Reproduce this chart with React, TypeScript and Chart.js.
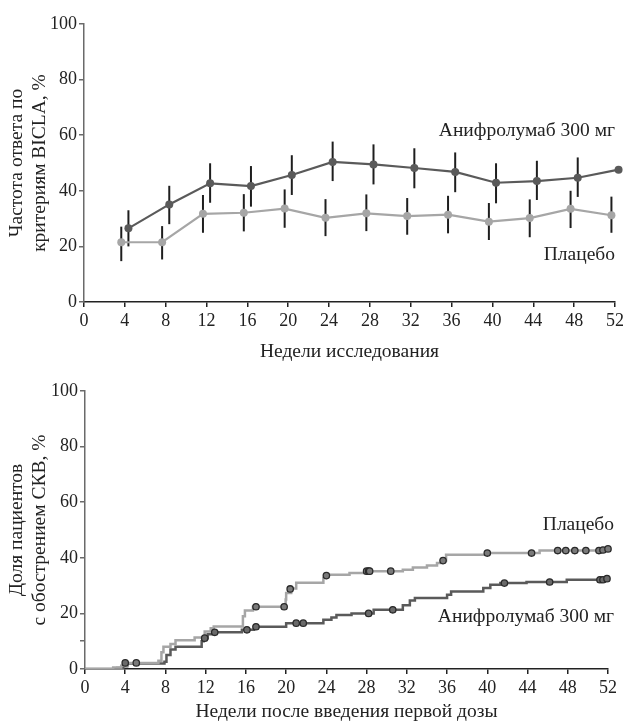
import React, { useEffect, useRef } from "react";
import { Chart, registerables } from "chart.js";

Chart.register(...registerables);

const FONT = "'Liberation Serif', 'Times New Roman', serif";
const TEXT = "#222222";
const DARK = "#5a5a5a";
const LIGHT = "#a6a6a6";
const TICK_FONT = { family: FONT, size: 18 };
const TITLE_FONT = { family: FONT, size: 19.5, lineHeight: 1.15 };

// ---------- Top chart: BICLA response ----------
const WEEKS = [4, 8, 12, 16, 20, 24, 28, 32, 36, 40, 44, 48, 52];
const WEEK_TICKS = [0, 4, 8, 12, 16, 20, 24, 28, 32, 36, 40, 44, 48, 52];
const ANIF = [26.5, 35.1, 42.7, 41.7, 45.7, 50.4, 49.5, 48.2, 46.8, 42.9, 43.5, 44.7, 47.6];
const ANIF_LOW = [20, 28, 35.7, 34.3, 38.5, 43.5, 42.3, 40.9, 39.5, 35.5, 36.7, 37.8, null];
const ANIF_HIGH = [33, 41.8, 49.9, 48.9, 52.8, 57.7, 56.7, 55.3, 53.8, 49.9, 50.8, 52, null];
const PLAC = [21.5, 21.5, 31.7, 32.1, 33.6, 30.3, 31.9, 30.9, 31.4, 28.9, 30.2, 33.5, 31.2];
const PLAC_LOW = [14.7, 15.3, 24.9, 25.4, 26.7, 23.7, 25.5, 24.2, 24.7, 22.3, 23.3, 26.6, 24.9];
const PLAC_HIGH = [27.1, 27.3, 38.5, 38.8, 40.5, 37, 38.7, 37.4, 38.2, 35.6, 36.9, 40, 37.9];
const DODGE = 0.35;

// ---------- Bottom chart: cumulative flares (Kaplan–Meier) ----------
const ANIF_KM_WEEKS = [0, 3.2, 3.8, 4.2, 7.9, 8.1, 8.5, 9.0, 11.6, 11.8, 12.2, 12.7, 15.6, 16.8, 20.0, 23.7, 24.5, 25.0, 26.5, 28.7, 31.6, 32.3, 32.8, 36.0, 36.4, 39.6, 40.3, 41.3, 43.9, 47.9, 52];
const ANIF_KM_PCT = [0, 0.4, 1, 2, 2.6, 5, 7, 8, 10, 11.1, 12.5, 13.2, 14.1, 15.2, 16.5, 17.7, 18.5, 19.4, 20, 21.3, 22.9, 24.6, 25.5, 26.7, 27.9, 29.1, 30.3, 30.9, 31.3, 32.1, 32.1];
const PLAC_KM_WEEKS = [0, 2.8, 3.6, 4.2, 7.3, 7.6, 7.8, 8.5, 9.0, 10.9, 11.9, 12.5, 12.8, 15.7, 15.9, 16.7, 19.95, 20.0, 20.5, 21.0, 23.7, 24.0, 26.3, 27.8, 31.6, 32.6, 34.0, 35.0, 35.5, 35.9, 39.9, 45.2, 52];
const PLAC_KM_PCT = [0, 0.5, 1.2, 2.2, 3, 6, 8, 9, 10.3, 11.3, 13.5, 14.7, 15.3, 19, 21, 22.4, 25, 27.3, 29, 31, 32.7, 33.9, 34.5, 35.2, 35.7, 36.5, 37.2, 38.1, 39, 41.1, 41.7, 42.6, 42.6];
const ANIF_CENS_WEEKS = [4.0, 11.9, 12.9, 16.1, 17.0, 21.0, 21.7, 28.2, 30.6, 41.7, 46.2, 51.2, 51.5, 51.9];
const ANIF_CENS_PCT = [2.2, 11.1, 13.2, 14.1, 15.2, 16.5, 16.5, 20, 21.3, 30.9, 31.3, 32.1, 32.1, 32.5];
const PLAC_CENS_WEEKS = [5.1, 17.0, 19.8, 20.4, 24.0, 28.0, 28.2, 28.3, 30.4, 35.6, 40.0, 44.4, 47.0, 47.8, 48.7, 49.8, 51.1, 51.5, 52];
const PLAC_CENS_PCT = [2.2, 22.4, 22.4, 28.8, 33.6, 35.2, 35.2, 35.2, 35.2, 39, 41.7, 41.7, 42.6, 42.6, 42.6, 42.6, 42.6, 42.8, 43.2];
const KM_Y_TICKS = [0, 10, 20, 40, 60, 80, 100];

const LABEL_ANIF = "Анифролумаб 300 мг";
const LABEL_PLAC = "Плацебо";

const zip = (xs: number[], ys: (number | null)[], dx = 0) =>
  xs.map((x, i) => ({ x: x + dx, y: ys[i] as number }));

const errorBarPlugin = {
  id: "errorBars",
  beforeDatasetsDraw(chart: any, _args: any, opts: any) {
    const { ctx } = chart;
    const x = chart.scales.x;
    const y = chart.scales.y;
    ctx.save();
    ctx.strokeStyle = opts.color;
    ctx.lineWidth = opts.width;
    (opts.sets || []).forEach((s: any) => {
      s.x.forEach((xv: number, i: number) => {
        if (s.low[i] == null || s.high[i] == null) return;
        const px = x.getPixelForValue(xv);
        ctx.beginPath();
        ctx.moveTo(px, y.getPixelForValue(s.low[i]));
        ctx.lineTo(px, y.getPixelForValue(s.high[i]));
        ctx.stroke();
      });
    });
    ctx.restore();
  },
};

const seriesLabelPlugin = {
  id: "seriesLabels",
  afterDatasetsDraw(chart: any, _args: any, opts: any) {
    const { ctx } = chart;
    const x = chart.scales.x;
    const y = chart.scales.y;
    ctx.save();
    ctx.font = `${TITLE_FONT.size}px ${FONT}`;
    ctx.fillStyle = TEXT;
    ctx.textAlign = "right";
    ctx.textBaseline = "middle";
    (opts.items || []).forEach((it: any) => {
      ctx.fillText(it.text, x.getPixelForValue(it.x), y.getPixelForValue(it.y));
    });
    ctx.restore();
  },
};

function axisCommon(color: string) {
  return {
    border: { display: true, color, width: 1.5 },
    grid: { display: true, drawOnChartArea: false, drawTicks: true, tickLength: 5, color, lineWidth: 1.5 },
  };
}

function BiclaChart() {
  const ref = useRef<HTMLCanvasElement>(null);
  useEffect(() => {
    const chart = new Chart(ref.current as HTMLCanvasElement, {
      type: "line",
      data: {
        datasets: [
          {
            label: LABEL_ANIF,
            data: zip(WEEKS, ANIF, DODGE),
            borderColor: DARK,
            backgroundColor: DARK,
            pointBackgroundColor: DARK,
            pointBorderColor: DARK,
            borderWidth: 2.2,
            pointRadius: 4,
            pointBorderWidth: 0,
            tension: 0,
            clip: false,
          },
          {
            label: LABEL_PLAC,
            data: zip(WEEKS, PLAC, -DODGE),
            borderColor: LIGHT,
            backgroundColor: LIGHT,
            pointBackgroundColor: LIGHT,
            pointBorderColor: LIGHT,
            borderWidth: 2.2,
            pointRadius: 4,
            pointBorderWidth: 0,
            tension: 0,
            clip: false,
          },
        ],
      },
      options: {
        responsive: false,
        animation: false,
        events: [],
        layout: { padding: { top: 24, right: 9, left: 0, bottom: 0 } },
        plugins: {
          legend: { display: false },
          tooltip: { enabled: false },
          errorBars: {
            color: "#1e1e1e",
            width: 2,
            sets: [
              { x: WEEKS.map((w) => w + DODGE), low: ANIF_LOW, high: ANIF_HIGH },
              { x: WEEKS.map((w) => w - DODGE), low: PLAC_LOW, high: PLAC_HIGH },
            ],
          },
          seriesLabels: {
            items: [
              { text: LABEL_ANIF, x: 52, y: 61.5 },
              { text: LABEL_PLAC, x: 52, y: 17 },
            ],
          },
        } as any,
        scales: {
          x: {
            type: "linear",
            min: 0,
            max: 52,
            ...axisCommon("#222"),
            afterBuildTicks: (s: any) => {
              s.ticks = WEEK_TICKS.map((v) => ({ value: v }));
            },
            afterFit: (s: any) => {
              s.height = 68;
            },
            ticks: { color: TEXT, font: TICK_FONT, padding: 3, maxRotation: 0 },
            title: {
              display: true,
              text: "Недели исследования",
              color: TEXT,
              font: TITLE_FONT,
              padding: { top: 0, bottom: 7 },
            },
          },
          y: {
            type: "linear",
            min: 0,
            max: 100,
            ...axisCommon("#6a6a6a"),
            ticks: { stepSize: 20, color: TEXT, font: TICK_FONT, padding: 2 },
            afterFit: (s: any) => {
              s.width = 84;
            },
            title: {
              display: true,
              text: ["Частота ответа по", "критериям BICLA, %"],
              color: TEXT,
              font: TITLE_FONT,
              padding: { top: 6, bottom: 0 },
            },
          },
        },
      },
      plugins: [errorBarPlugin, seriesLabelPlugin],
    });
    return () => chart.destroy();
  }, []);
  return <canvas ref={ref} width={627} height={370} style={{ display: "block", width: 627, height: 370 }} />;
}

function FlareChart() {
  const ref = useRef<HTMLCanvasElement>(null);
  useEffect(() => {
    const censorStyle = {
      showLine: false,
      pointRadius: 3.2,
      pointBorderWidth: 1.3,
      pointBorderColor: "#2a2a2a",
      order: 0,
      clip: false,
    };
    const chart = new Chart(ref.current as HTMLCanvasElement, {
      type: "line",
      data: {
        datasets: [
          {
            label: LABEL_ANIF + " цензур.",
            data: zip(ANIF_CENS_WEEKS, ANIF_CENS_PCT),
            pointBackgroundColor: "#6a6a6a",
            backgroundColor: "#6a6a6a",
            borderColor: "#2a2a2a",
            ...censorStyle,
          },
          {
            label: LABEL_PLAC + " цензур.",
            data: zip(PLAC_CENS_WEEKS, PLAC_CENS_PCT),
            pointBackgroundColor: "#7a7a7a",
            backgroundColor: "#7a7a7a",
            borderColor: "#2a2a2a",
            ...censorStyle,
          },
          {
            label: LABEL_PLAC,
            data: zip(PLAC_KM_WEEKS, PLAC_KM_PCT),
            stepped: "before",
            borderColor: LIGHT,
            backgroundColor: LIGHT,
            borderWidth: 2.5,
            pointRadius: 0,
            order: 1,
          },
          {
            label: LABEL_ANIF,
            data: zip(ANIF_KM_WEEKS, ANIF_KM_PCT),
            stepped: "before",
            borderColor: DARK,
            backgroundColor: DARK,
            borderWidth: 2.5,
            pointRadius: 0,
            order: 2,
          },
        ],
      },
      options: {
        responsive: false,
        animation: false,
        events: [],
        layout: { padding: { top: 21, right: 19, left: 0, bottom: 0 } },
        plugins: {
          legend: { display: false },
          tooltip: { enabled: false },
          seriesLabels: {
            items: [
              { text: LABEL_PLAC, x: 52.6, y: 51.9 },
              { text: LABEL_ANIF, x: 52.6, y: 18.7 },
            ],
          },
        } as any,
        scales: {
          x: {
            type: "linear",
            min: 0,
            max: 52,
            ...axisCommon("#222"),
            afterBuildTicks: (s: any) => {
              s.ticks = WEEK_TICKS.map((v) => ({ value: v }));
            },
            afterFit: (s: any) => {
              s.height = 54;
            },
            ticks: { color: TEXT, font: TICK_FONT, padding: 3, maxRotation: 0 },
            title: {
              display: true,
              text: "Недели после введения первой дозы",
              color: TEXT,
              font: TITLE_FONT,
              padding: { top: 0, bottom: 0 },
            },
          },
          y: {
            type: "linear",
            min: 0,
            max: 100,
            ...axisCommon("#6a6a6a"),
            afterBuildTicks: (s: any) => {
              s.ticks = KM_Y_TICKS.map((v) => ({ value: v }));
            },
            ticks: {
              color: TEXT,
              font: TICK_FONT,
              padding: 2,
              callback: (v: any) => (v === 10 ? "" : String(v)),
            },
            afterFit: (s: any) => {
              s.width = 85;
            },
            title: {
              display: true,
              text: ["Доля пациентов", "с обострением СКВ, %"],
              color: TEXT,
              font: TITLE_FONT,
              padding: { top: 6, bottom: 0 },
            },
          },
        },
      },
      plugins: [seriesLabelPlugin],
    });
    return () => chart.destroy();
  }, []);
  return <canvas ref={ref} width={627} height={353} style={{ display: "block", width: 627, height: 353 }} />;
}

export default function App() {
  return (
    <div style={{ position: "absolute", left: 0, top: 0, width: 627, height: 723, background: "#fff" }}>
      <BiclaChart />
      <FlareChart />
    </div>
  );
}
